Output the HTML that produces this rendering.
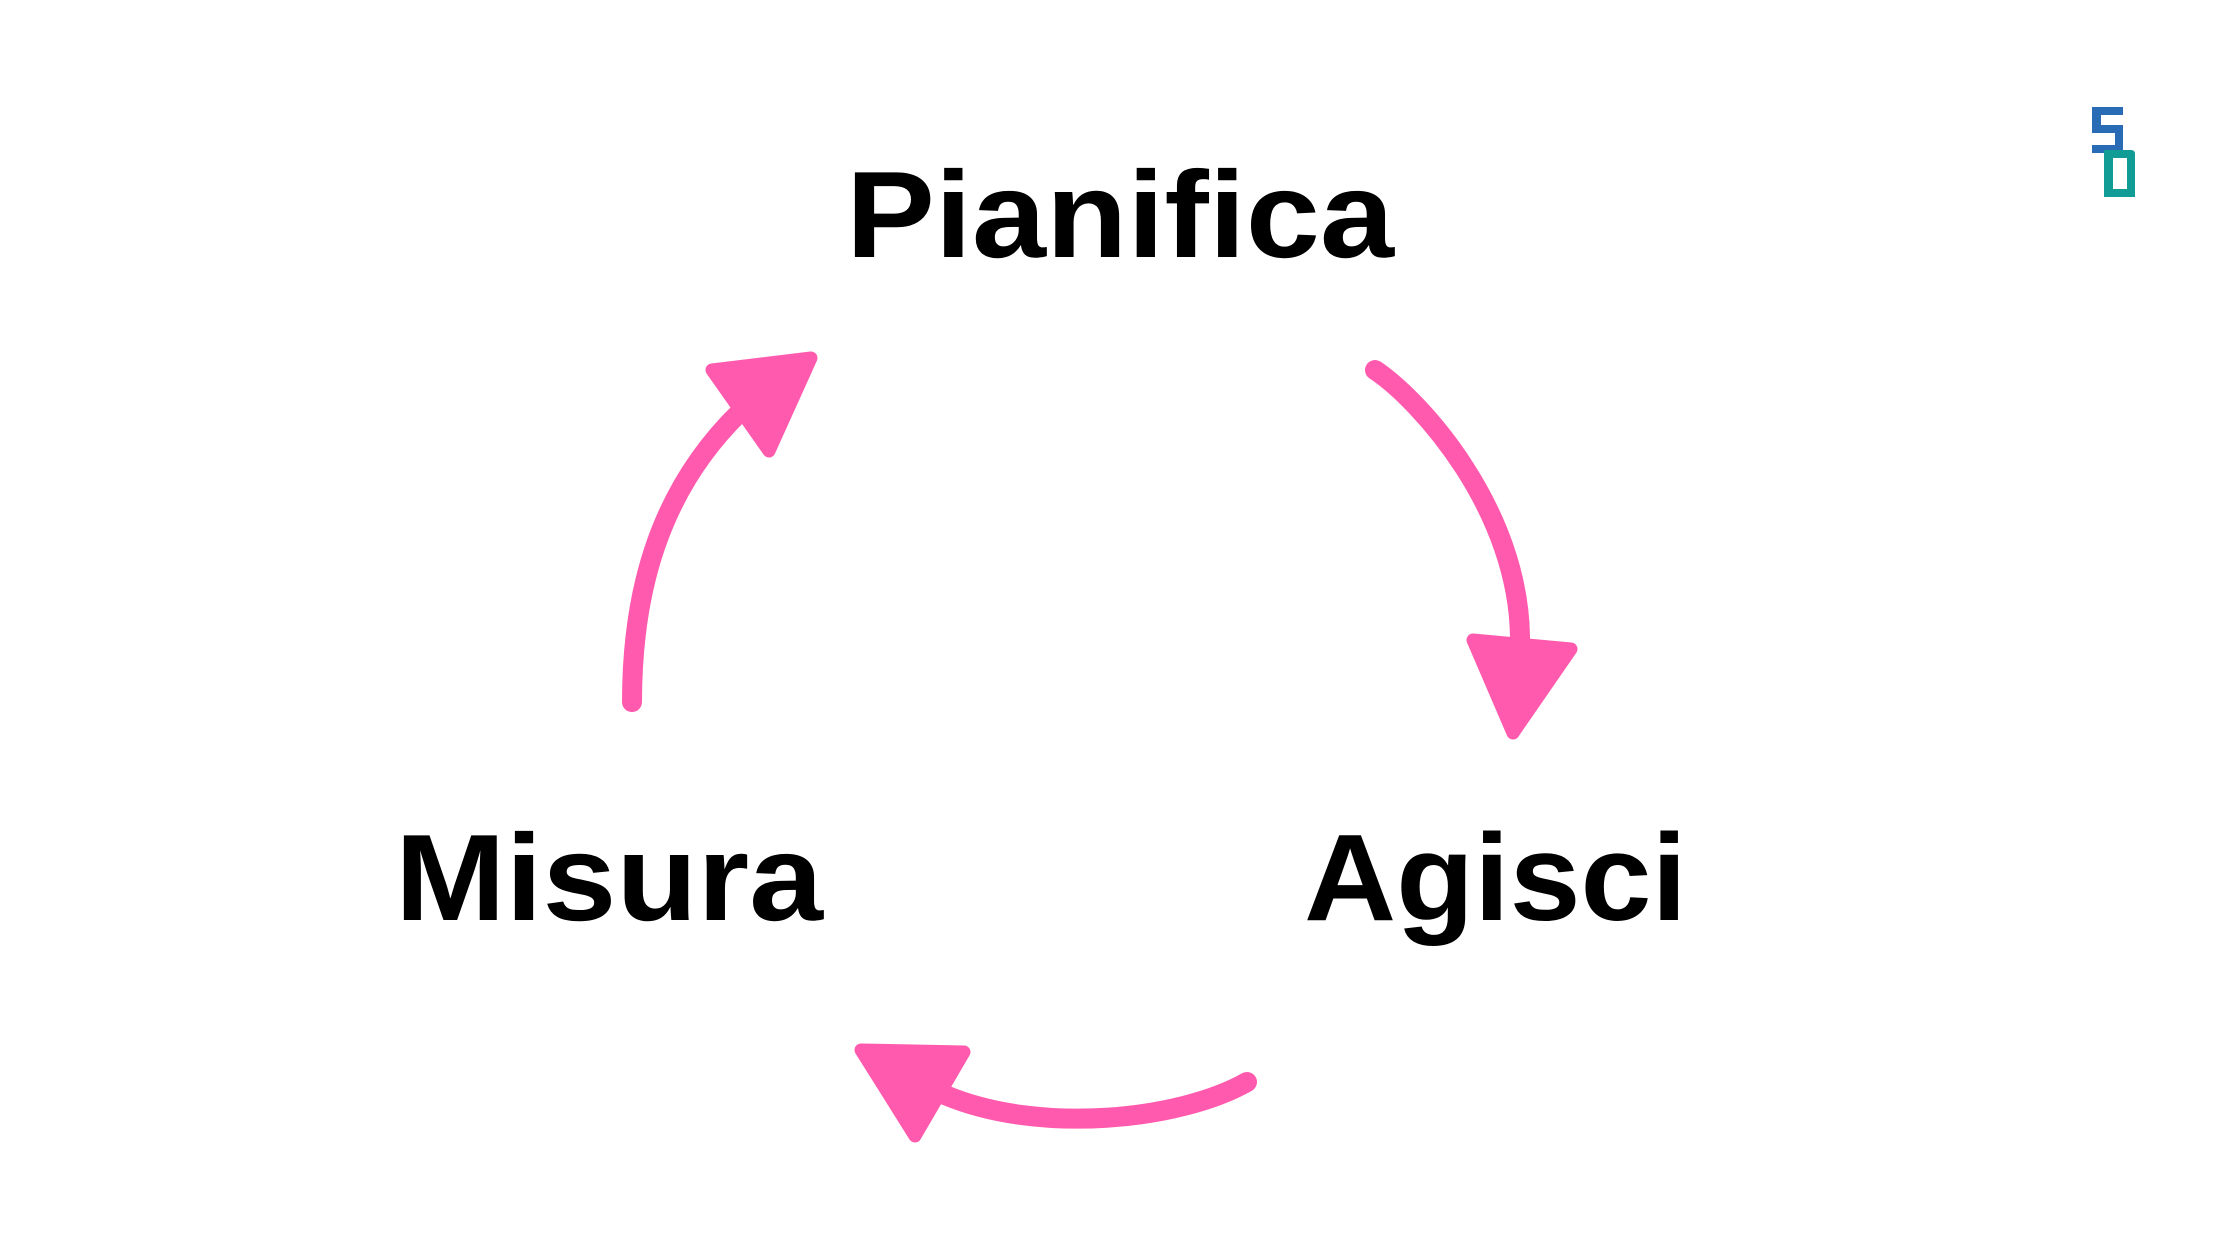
<!DOCTYPE html>
<html>
<head>
<meta charset="utf-8">
<style>
  html, body { margin:0; padding:0; background:#ffffff; }
  body { width:2240px; height:1260px; overflow:hidden; }
  svg { display:block; }
  text { font-family:"Liberation Sans", Arial, sans-serif; font-weight:bold; fill:#000; }
</style>
</head>
<body>
<svg width="2240" height="1260" viewBox="0 0 2240 1260" xmlns="http://www.w3.org/2000/svg">
  <rect width="2240" height="1260" fill="#ffffff"/>

  <!-- Labels -->
  <text x="846" y="257" font-size="123" textLength="548" lengthAdjust="spacingAndGlyphs">Pianifica</text>
  <text x="395" y="920" font-size="123" textLength="428" lengthAdjust="spacingAndGlyphs">Misura</text>
  <text x="1304" y="920" font-size="123" textLength="383" lengthAdjust="spacingAndGlyphs">Agisci</text>

  <!-- Arrows -->
  <g fill="none" stroke="#ff5aad" stroke-width="20" stroke-linecap="round">
    <path d="M632,702 C632,590 660,490 740,412"/>
    <path d="M1375,370 C1420,400 1520,510 1520,640"/>
    <path d="M1247,1082 C1180,1120 1040,1135 945,1095"/>
  </g>
  <g fill="#ff5aad" stroke="#ff5aad" stroke-width="13" stroke-linejoin="round">
    <polygon points="712,370 811,358 769,451"/>
    <polygon points="1473,640 1571,649 1513,733"/>
    <polygon points="861,1050 964,1052 915,1136"/>
  </g>

  <!-- Logo -->
  <g fill="#2a6bb5">
    <rect x="2092" y="107" width="31" height="8"/>
    <rect x="2092" y="107" width="9" height="26"/>
    <rect x="2092" y="125" width="31" height="8"/>
    <rect x="2115" y="125" width="8" height="28"/>
    <rect x="2092" y="145" width="31" height="8"/>
  </g>
  <path d="M2104,150 H2131 Q2135,150 2135,154 V197 H2104 Z M2113,158 V189 H2127 V158 Z" fill="#129c96" fill-rule="evenodd"/>
</svg>
</body>
</html>
